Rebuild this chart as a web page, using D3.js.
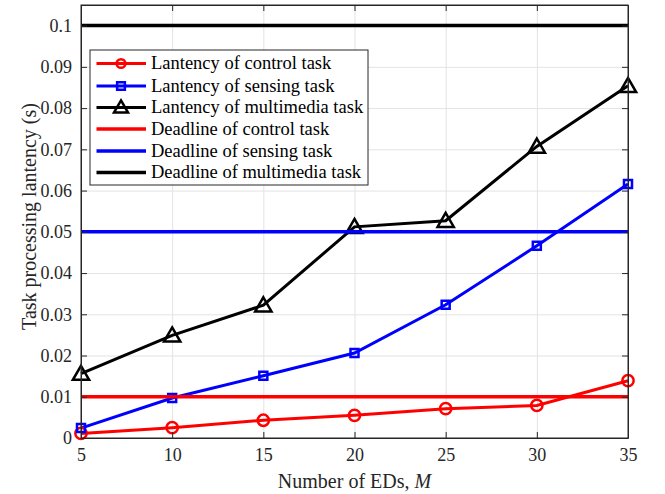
<!DOCTYPE html>
<html>
<head>
<meta charset="utf-8">
<script src="https://cdn.jsdelivr.net/npm/d3@7"></script>
<style>
	body { margin: 0; background: #fff; }
	svg { font-family: 'Liberation Serif', 'Times New Roman', serif; }
</style>
</head>
<body>
<svg width="665" height="494"></svg>
<script>
const edCounts = [5, 10, 15, 20, 25, 30, 35];
const controlLatency = [0.0011, 0.0025, 0.0043, 0.0055, 0.0071, 0.0079, 0.0139];
const sensingLatency = [0.0024, 0.0097, 0.0151, 0.0206, 0.0323, 0.0466, 0.0616];
const multimediaLatency = [0.0156, 0.0249, 0.0322, 0.0512, 0.0527, 0.0707, 0.0854];
const deadlines = [0.01, 0.05, 0.1];
const yTicks = [0, 0.01, 0.02, 0.03, 0.04, 0.05, 0.06, 0.07, 0.08, 0.09, 0.1];
const xTicks = [5, 10, 15, 20, 25, 30, 35];

const series = [
	{ name: 'Lantency of control task', color: '#ff0000', marker: 'circle', values: controlLatency },
	{ name: 'Lantency of sensing task', color: '#0000ff', marker: 'square', values: sensingLatency },
	{ name: 'Lantency of multimedia task', color: '#000000', marker: 'triangle', values: multimediaLatency }
];
const deadlineSeries = [
	{ name: 'Deadline of control task', color: '#ff0000', value: deadlines[0] },
	{ name: 'Deadline of sensing task', color: '#0000ff', value: deadlines[1] },
	{ name: 'Deadline of multimedia task', color: '#000000', value: deadlines[2] }
];

const FONT = "'Liberation Serif', 'Times New Roman', serif";
const MARGIN = { top: 5, right: 37, bottom: 56, left: 81 };
const width = 665 - MARGIN.left - MARGIN.right;
const height = 494 - MARGIN.top - MARGIN.bottom;
const TICK = 6;
const AXIS_COLOR = '#262626';

const svg = d3.select('svg');
const g = svg.append('g').attr('transform', `translate(${MARGIN.left}, ${MARGIN.top})`);

const x = d3.scaleLinear().domain([5, 35]).range([0, width]);
const y = d3.scaleLinear().domain([0, 0.105]).range([height, 0]);

function styleAxis(sel) {
	sel.attr('font-family', FONT).attr('font-size', 18);
	sel.selectAll('text').attr('fill', AXIS_COLOR);
	sel.selectAll('line, path').attr('stroke', AXIS_COLOR);
}

// grid
const gridX = g.append('g')
	.call(d3.axisBottom(x).tickValues(xTicks).tickSize(height).tickFormat(''));
const gridY = g.append('g')
	.call(d3.axisLeft(y).tickValues(yTicks).tickSize(-width).tickFormat(''));
[gridX, gridY].forEach(s => {
	s.select('.domain').remove();
	s.selectAll('line').attr('stroke', '#e3e3e3');
});

// latency lines
const line = d3.line()
	.x((d, i) => x(edCounts[i]))
	.y(d => y(d));

const symbols = {
	circle: d3.symbol().type(d3.symbolCircle).size(100),
	square: d3.symbol().type(d3.symbolSquare).size(64),
	triangle: d3.symbol().type(d3.symbolTriangle).size(115)
};

series.forEach(s => {
	g.append('path')
		.datum(s.values)
		.attr('fill', 'none')
		.attr('stroke', s.color)
		.attr('stroke-width', 3)
		.attr('d', line);
});

series.forEach(s => {
	g.selectAll(null)
		.data(s.values)
		.enter()
		.append('path')
		.attr('transform', (d, i) => `translate(${x(edCounts[i])}, ${y(d) + (s.marker === 'triangle' ? 1.5 : 0)})`)
		.attr('d', symbols[s.marker]())
		.attr('fill', 'none')
		.attr('stroke', s.color)
		.attr('stroke-width', 2.5);
});

// deadlines on top
deadlineSeries.forEach(d => {
	g.append('line')
		.attr('x1', x(5)).attr('x2', x(35))
		.attr('y1', y(d.value)).attr('y2', y(d.value))
		.attr('stroke', d.color)
		.attr('stroke-width', 3.5);
});

// axes, ticks inward on all four sides
g.append('g')
	.attr('transform', `translate(0, ${height})`)
	.call(d3.axisBottom(x).tickValues(xTicks).tickSizeInner(-TICK).tickSizeOuter(0).tickPadding(10))
	.call(styleAxis);
g.append('g')
	.call(d3.axisTop(x).tickValues(xTicks).tickSizeInner(-TICK).tickSizeOuter(0).tickFormat(''))
	.call(styleAxis);
g.append('g')
	.call(d3.axisLeft(y).tickValues(yTicks).tickSizeInner(-TICK).tickSizeOuter(0).tickPadding(9)
		.tickFormat(d => d === 0 ? '0' : String(+d.toFixed(2))))
	.call(styleAxis);
g.append('g')
	.attr('transform', `translate(${width}, 0)`)
	.call(d3.axisRight(y).tickValues(yTicks).tickSizeInner(-TICK).tickSizeOuter(0).tickFormat(''))
	.call(styleAxis);

g.append('rect')
	.attr('width', width).attr('height', height)
	.attr('fill', 'none')
	.attr('stroke', AXIS_COLOR)
	.attr('stroke-width', 1);

// axis labels
svg.append('text')
	.attr('x', MARGIN.left + width / 2)
	.attr('y', 488)
	.attr('text-anchor', 'middle')
	.attr('font-size', 20)
	.attr('fill', AXIS_COLOR)
	.html('Number of EDs, <tspan font-style="italic">M</tspan>');

svg.append('text')
	.attr('transform', `translate(36, ${MARGIN.top + height / 2 - 5}) rotate(-90)`)
	.attr('text-anchor', 'middle')
	.attr('font-size', 20)
	.attr('fill', AXIS_COLOR)
	.text('Task processing lantency (s)');

// legend
const legend = svg.append('g').attr('transform', 'translate(90, 50)');
legend.append('rect')
	.attr('width', 278).attr('height', 135)
	.attr('fill', '#fff')
	.attr('stroke', AXIS_COLOR)
	.attr('stroke-width', 1);

const rows = [
	...series.map(s => ({ name: s.name, color: s.color, marker: s.marker, w: 3 })),
	...deadlineSeries.map(d => ({ name: d.name, color: d.color, marker: null, w: 3.5 }))
];
const rowY = [13.5, 36, 57.5, 79, 101, 122.5];

rows.forEach((r, i) => {
	const item = legend.append('g').attr('transform', `translate(0, ${rowY[i]})`);
	item.append('line')
		.attr('x1', 6.5).attr('x2', 56)
		.attr('stroke', r.color)
		.attr('stroke-width', r.w);
	if (r.marker) {
		item.append('path')
			.attr('transform', `translate(31, ${r.marker === 'triangle' ? 1 : 0})`)
			.attr('d', d3.symbol().type(symbols[r.marker].type()).size(r.marker === 'triangle' ? 85 : 60)())
			.attr('fill', 'none')
			.attr('stroke', r.color)
			.attr('stroke-width', 2.5);
	}
	item.append('text')
		.attr('x', 61)
		.attr('dy', '0.32em')
		.attr('font-size', 18.5)
		.attr('fill', '#000')
		.text(r.name);
});
</script>
</body>
</html>
